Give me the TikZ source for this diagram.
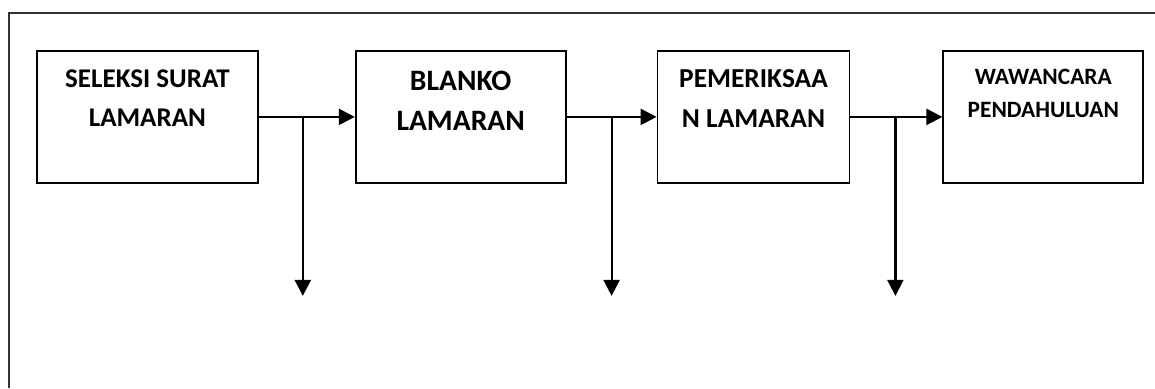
\documentclass[tikz,border=0pt]{standalone}
\usepackage{fontspec}
\setmainfont{Carlito}[BoldFont={Carlito Bold}]
\usetikzlibrary{arrows.meta,positioning}
\tikzstyle{box}=[rectangle,draw=black,line width=0.9pt,minimum height=66pt,inner sep=0pt]
\tikzstyle{txt}=[anchor=north,align=center,inner sep=0pt]
\tikzstyle{frame}=[draw=black!80,line width=0.6pt]
\tikzstyle{arr}=[line width=1.1pt,-{Triangle[length=8pt,width=8pt]}]

\begin{document}
\begin{tikzpicture}[node distance=48pt]
            \useasboundingbox (0,0) rectangle (577.5pt,-194pt);

            % FRAME
            \draw[frame] (4.5pt,-194pt) -- (4.5pt,-6.5pt) -- (577.5pt,-6.5pt);

            % BOXES
            \node[box,minimum width=110.5pt,anchor=north west,
                label={[txt,yshift=-9.6pt,font=\fontsize{13.5}{19.5}\selectfont\bfseries]north:SELEKSI SURAT\\LAMARAN}] (b1) at (18pt,-25pt) {};
            \node[box,minimum width=105pt,right=48pt of b1,
                label={[txt,yshift=-10.1pt,font=\fontsize{14.8}{20}\selectfont\bfseries]north:BLANKO\\LAMARAN}] (b2) {};
            \node[box,minimum width=96pt,right=45pt of b2,
                label={[txt,yshift=-9.6pt,font=\fontsize{13.7}{20}\selectfont\bfseries]north:PEMERIKSAA\\N LAMARAN}] (b3) {};
            \node[box,minimum width=100pt,right=46pt of b3,
                label={[txt,yshift=-9.6pt,font=\fontsize{11.7}{16.5}\selectfont\bfseries]north:WAWANCARA\\PENDAHULUAN}] (b4) {};

            % BRANCH POINTS
            \coordinate[right=22pt of b1] (c1);
            \coordinate[right=22.5pt of b2] (c2);
            \coordinate[right=22.5pt of b3] (c3);
            \coordinate[below=89.5pt of c1] (d1);
            \coordinate[below=89.5pt of c2] (d2);
            \coordinate[below=89.5pt of c3] (d3);

            % ARROWS
            \draw[arr] (b1) -- (b2);
            \draw[arr] (b2) -- (b3);
            \draw[arr] (b3) -- (b4);
            \draw[arr] (c1) -- (d1);
            \draw[arr] (c2) -- (d2);
            \draw[arr] (c3) -- (d3);

\end{tikzpicture}
\end{document}
